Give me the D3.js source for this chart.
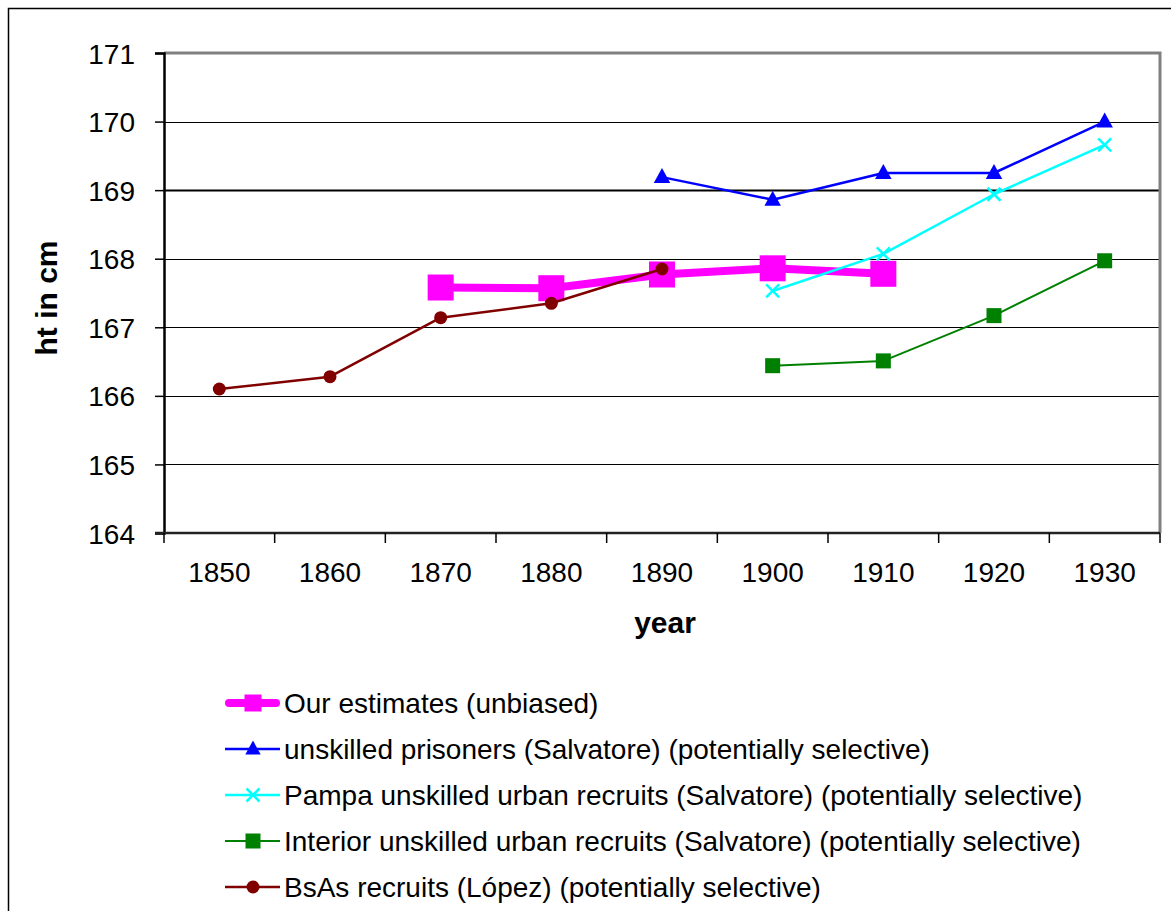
<!DOCTYPE html>
<html lang="en">
<head>
  <meta charset="UTF-8">
  <title>Heights by birth decade</title>
  <script src="https://d3js.org/d3.v7.min.js"></script>
  <style>
    html, body { margin: 0; padding: 0; background: #fff; overflow: hidden; }
    svg { display: block; }
    text { font-family: "Liberation Sans", Arial, sans-serif; fill: #000; }
    .tick-label { font-size: 28px; }
    .axis-title { font-size: 30px; font-weight: bold; }
    .legend-label { font-size: 28px; }
  </style>
</head>
<body>
  <svg id="chart" width="1171" height="911"></svg>
  <script>
  // categories on the x axis
  const years = ["1850", "1860", "1870", "1880", "1890", "1900", "1910", "1920", "1930"];
  const yTicks = [164, 165, 166, 167, 168, 169, 170, 171];

  // series values (null = no observation)
  const ourEstimates = [null, null, 167.58, 167.57, 167.77, 167.86, 167.78, null, null];
  const prisoners    = [null, null, null, null, 169.19, 168.86, 169.25, 169.25, 170.0];
  const pampa        = [null, null, null, null, null, 167.53, 168.07, 168.94, 169.66];
  const interior     = [null, null, null, null, null, 166.44, 166.51, 167.17, 167.97];
  const bsas         = [166.10, 166.28, 167.14, 167.35, 167.85, null, null, null, null];

  const seriesNames = [
    "Our estimates (unbiased)",
    "unskilled prisoners (Salvatore) (potentially selective)",
    "Pampa unskilled urban recruits (Salvatore) (potentially selective)",
    "Interior unskilled urban recruits (Salvatore) (potentially selective)",
    "BsAs recruits (López) (potentially selective)"
  ];

  // styling per series, drawn in this order (first at the bottom)
  const series = [
    { name: seriesNames[0], values: ourEstimates, color: "#ff00ff", width: 8, marker: "square", size: 26, legendSize: 17 },
    { name: seriesNames[1], values: prisoners, color: "#0000ff", width: 2.5, marker: "triangle", size: 15, legendSize: 14 },
    { name: seriesNames[2], values: pampa, color: "#00ffff", width: 2.5, marker: "cross", size: 13, legendSize: 13 },
    { name: seriesNames[3], values: interior, color: "#008000", width: 2, marker: "square", size: 15, legendSize: 15 },
    { name: seriesNames[4], values: bsas, color: "#800000", width: 2.5, marker: "circle", size: 13, legendSize: 13 }
  ];

  const svg = d3.select("#chart");
  const plot = { left: 164, right: 1160, top: 53, bottom: 533 };

  const x = d3.scaleBand().domain(years).range([plot.left, plot.right]).padding(0);
  const y = d3.scaleLinear().domain([164, 171]).range([plot.bottom, plot.top]);
  const cx = d => x(d) + x.bandwidth() / 2;

  // outer frame (only left and top edges fall inside the window)
  svg.append("rect")
    .attr("x", 8.5).attr("y", 8.5)
    .attr("width", 1180).attr("height", 920)
    .attr("fill", "none").attr("stroke", "#000").attr("stroke-width", 1.5);

  // horizontal gridlines
  svg.append("g")
    .selectAll("line")
    .data(yTicks.filter(t => t > 164 && t < 171))
    .join("line")
    .attr("x1", plot.left).attr("x2", plot.right)
    .attr("y1", d => Math.round(y(d)) + 0.5).attr("y2", d => Math.round(y(d)) + 0.5)
    .attr("stroke", "#000")
    .attr("stroke-width", d => d === 169 ? 2 : 1.2);

  // plot area border: grey top and right
  svg.append("path")
    .attr("d", `M${plot.left},${plot.top} H${plot.right} V${plot.bottom}`)
    .attr("fill", "none").attr("stroke", "#808080").attr("stroke-width", 3);

  // y axis
  const yAxis = svg.append("g").attr("transform", `translate(${plot.left},0)`)
    .call(d3.axisLeft(y).tickValues(yTicks).tickSize(9).tickPadding(20).tickFormat(d3.format("d")));
  yAxis.select(".domain").attr("stroke", "#000").attr("stroke-width", 2.5);
  yAxis.selectAll(".tick line").attr("stroke", "#000").attr("stroke-width", 1.5);
  yAxis.selectAll(".tick text").attr("class", "tick-label").attr("font-size", null).attr("font-family", null)
    .attr("dy", "0.36em").attr("x", -29);

  // x axis with ticks between categories
  const xAxis = svg.append("g").attr("transform", `translate(0,${plot.bottom})`);
  xAxis.append("line")
    .attr("x1", plot.left - 9).attr("x2", plot.right)
    .attr("y1", 0).attr("y2", 0)
    .attr("stroke", "#222").attr("stroke-width", 2.5);
  xAxis.selectAll(".xtick")
    .data(years.concat(["end"]))
    .join("line")
    .attr("class", "xtick")
    .attr("x1", (d, i) => i < years.length ? x(d) : plot.right)
    .attr("x2", (d, i) => i < years.length ? x(d) : plot.right)
    .attr("y1", 0).attr("y2", 10)
    .attr("stroke", "#000").attr("stroke-width", 1.5);
  xAxis.selectAll(".xlabel")
    .data(years)
    .join("text")
    .attr("class", "tick-label xlabel")
    .attr("x", d => cx(d))
    .attr("y", 49)
    .attr("text-anchor", "middle")
    .text(d => d);

  // axis titles
  svg.append("text")
    .attr("class", "axis-title")
    .attr("transform", "translate(57,298) rotate(-90)")
    .attr("text-anchor", "middle")
    .text("ht in cm");
  svg.append("text")
    .attr("class", "axis-title")
    .attr("x", 665).attr("y", 633)
    .attr("text-anchor", "middle")
    .text("year");

  // marker drawing
  function drawMarker(g, type, size, color) {
    if (type === "square") {
      g.append("rect")
        .attr("x", -size / 2).attr("y", -size / 2)
        .attr("width", size).attr("height", size)
        .attr("fill", color);
    } else if (type === "triangle") {
      g.append("path")
        .attr("d", `M0,${-size * 0.6} L${size * 0.55},${size * 0.4} L${-size * 0.55},${size * 0.4} Z`)
        .attr("fill", color);
    } else if (type === "circle") {
      g.append("circle").attr("r", size / 2).attr("fill", color);
    } else if (type === "cross") {
      const h = size / 2;
      g.append("path")
        .attr("d", `M${-h},${-h} L${h},${h} M${-h},${h} L${h},${-h}`)
        .attr("stroke", color).attr("stroke-width", 2.5).attr("fill", "none");
    }
  }

  const line = d3.line()
    .defined(d => d.v !== null)
    .x(d => cx(d.year))
    .y(d => y(d.v));

  series.forEach(s => {
    const pts = years.map((yr, i) => ({ year: yr, v: s.values[i] }));
    const g = svg.append("g");
    g.append("path")
      .datum(pts)
      .attr("d", line)
      .attr("fill", "none")
      .attr("stroke", s.color)
      .attr("stroke-width", s.width)
      .attr("stroke-linejoin", "round");
    pts.filter(p => p.v !== null).forEach(p => {
      const m = g.append("g").attr("transform", `translate(${cx(p.year)},${y(p.v)})`);
      drawMarker(m, s.marker, s.size, s.color);
    });
  });

  // legend
  const legend = svg.append("g").attr("transform", "translate(225,703)");
  series.forEach((s, i) => {
    const row = legend.append("g").attr("transform", `translate(0,${i * 46})`);
    row.append("line")
      .attr("x1", s.width > 4 ? 4 : 0).attr("x2", s.width > 4 ? 51 : 55)
      .attr("y1", 0).attr("y2", 0)
      .attr("stroke", s.color)
      .attr("stroke-width", s.width)
      .attr("stroke-linecap", s.width > 4 ? "round" : "butt");
    const m = row.append("g").attr("transform", "translate(28,0)");
    drawMarker(m, s.marker, s.legendSize, s.color);
    row.append("text")
      .attr("class", "legend-label")
      .attr("x", 59)
      .attr("dy", "0.36em")
      .text(s.name);
  });
  </script>
</body>
</html>
